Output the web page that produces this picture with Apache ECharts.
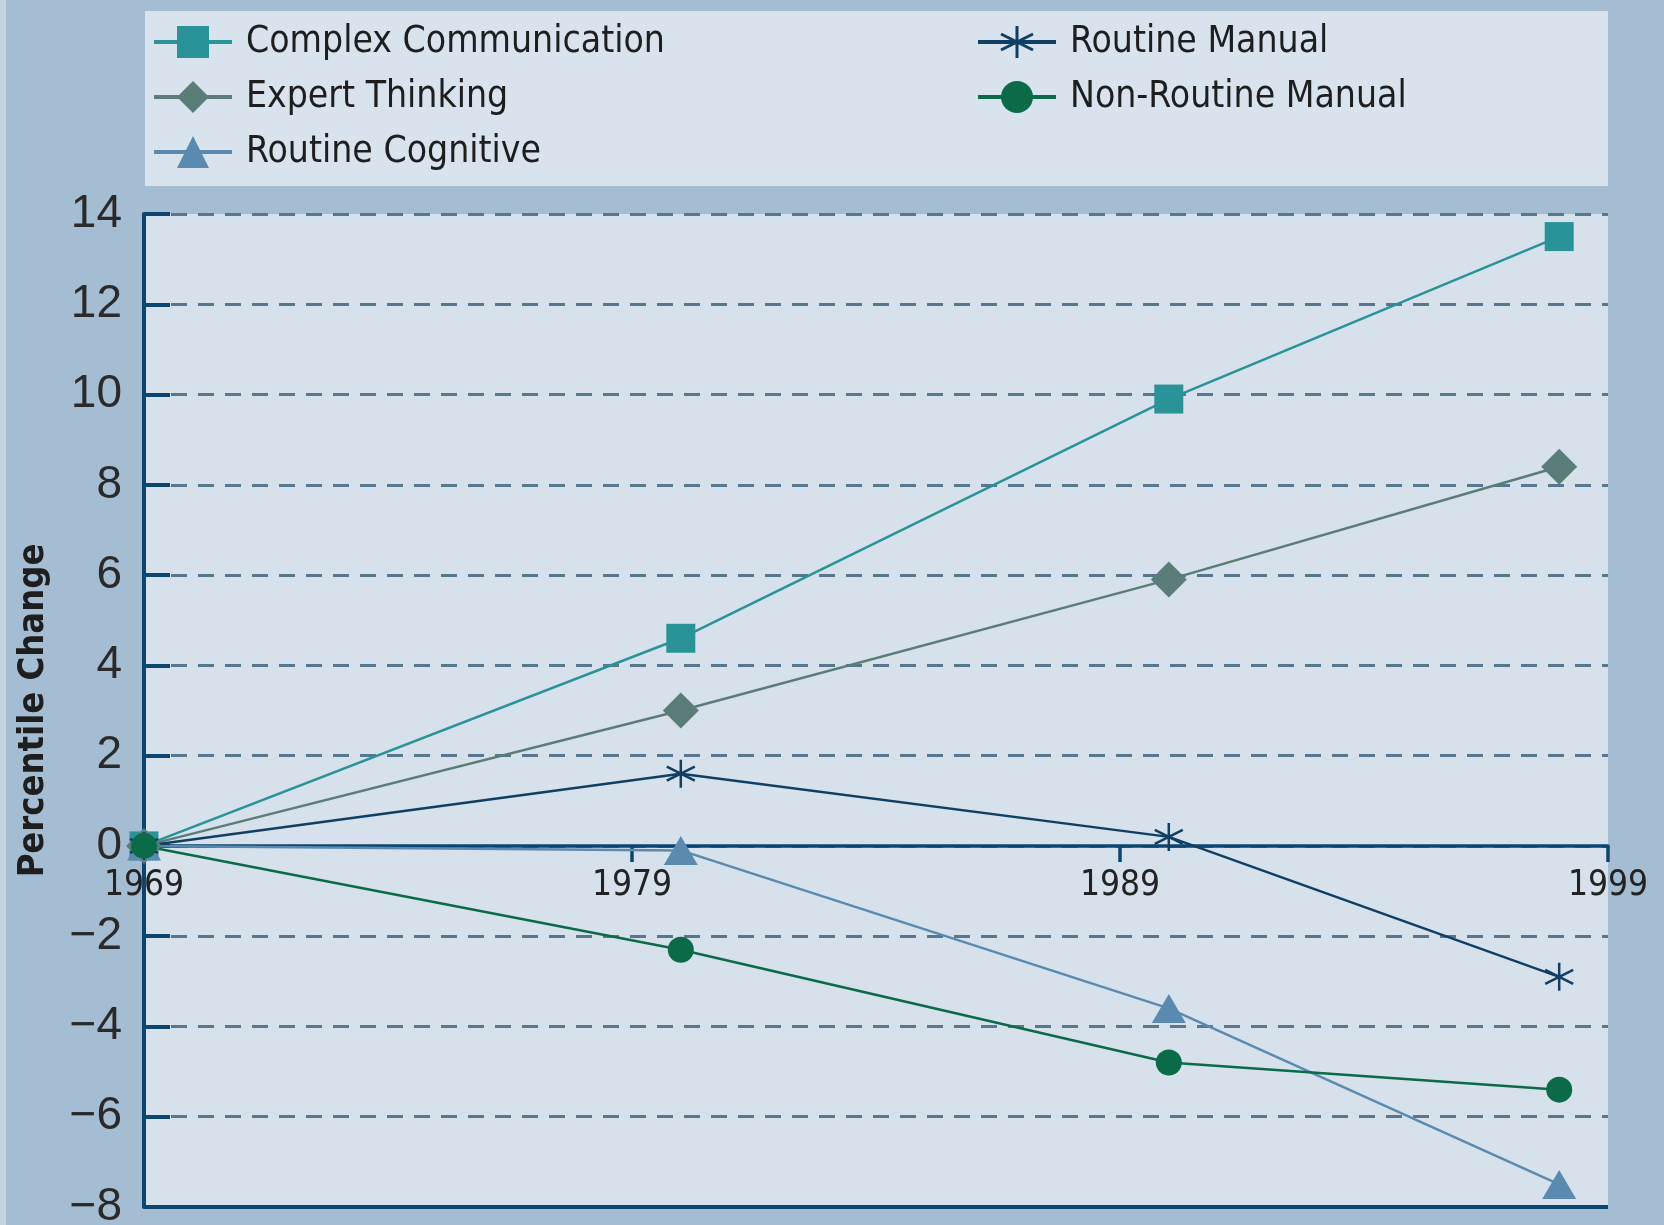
<!DOCTYPE html>
<html><head><meta charset="utf-8">
<script src="https://cdn.jsdelivr.net/npm/echarts@6/dist/echarts.min.js"></script>
<style>html,body{margin:0;padding:0;background:#a5bdd3}#c{width:1664px;height:1225px}</style>
</head><body><div id="c"></div>
<script>
// ---- data ----
const baseYear = 1969;
const years = [1969, 1980, 1990, 1998];
const xAxisRange = [1969, 1999];
const xTickStep = 10;
const yAxisRange = [-8, 14];
const yTickStep = 2;
const seriesNames = ['Complex Communication', 'Expert Thinking', 'Routine Cognitive', 'Routine Manual', 'Non-Routine Manual'];
const complexCommunication = [0, 4.6, 9.9, 13.5];
const expertThinking = [0, 3.0, 5.9, 8.4];
const routineCognitive = [0, -0.1, -3.6, -7.5];
const routineManual = [0, 1.6, 0.2, -2.9];
const nonRoutineManual = [0, -2.3, -4.8, -5.4];
const yAxisTitle = 'Percentile Change';

// ---- layout / styling ----
const W = 1664, H = 1225;
const gridBox = {left: 144, right: 56, top: 214, bottom: 18};
const plotH = H - gridBox.top - gridBox.bottom;
const zeroY = gridBox.top + plotH * (yAxisRange[1] / (yAxisRange[1] - yAxisRange[0]));
const navy = '#0c4670';
const narrow = '"Liberation Sans Narrow","DejaVu Sans Condensed","Roboto Condensed",sans-serif';
const asterisk = 'path://M0,-10L0,10M-8.7,-5L8.7,5M-8.7,5L8.7,-5';
const styles = [
  {color: '#2a9398', symbol: 'rect', size: 29},
  {color: '#5a7d79', symbol: 'diamond', size: 36},
  {color: '#5a8ab0', symbol: 'triangle', size: [34, 29]},
  {color: '#103f63', symbol: asterisk, size: 28, border: 2.5},
  {color: '#0b6a47', symbol: 'circle', size: 26}
];
const valuesList = [complexCommunication, expertThinking, routineCognitive, routineManual, nonRoutineManual];

const series = seriesNames.map((name, i) => {
  const st = styles[i];
  const s = {
    name, type: 'line', xAxisIndex: 0, yAxisIndex: 0,
    data: years.map((y, j) => [y - baseYear, valuesList[i][j]]),
    symbol: st.symbol, symbolSize: st.size,
    lineStyle: {color: st.color, width: 2.5},
    itemStyle: {color: st.color, opacity: 1},
    emphasis: {disabled: true},
    animation: false
  };
  if (st.border) {
    s.itemStyle.borderColor = st.color;
    s.itemStyle.borderWidth = st.border;
  }
  return s;
});
// bottom frame line of the plot at the axis minimum
series[0].markLine = {
  silent: true, symbol: 'none', label: {show: false},
  lineStyle: {color: navy, width: 4, type: 'solid'},
  data: [{yAxis: yAxisRange[0]}]
};

const legendCommon = {
  orient: 'vertical', itemWidth: 78, itemHeight: 40, itemGap: 15,
  textStyle: {fontFamily: narrow, fontSize: 37, color: '#1e1e1e', padding: [0, 0, 0, 9], lineHeight: 40},
  lineStyle: {width: 4},
  selectedMode: false
};
function legendData(names) {
  return names.map(n => {
    const i = seriesNames.indexOf(n);
    const d = {name: n};
    if (styles[i].border) d.itemStyle = {borderColor: styles[i].color, borderWidth: 3};
    return d;
  });
}
const xRange = xAxisRange[1] - xAxisRange[0];

const chart = echarts.init(document.getElementById('c'));
chart.setOption({
  backgroundColor: '#a5bdd3',
  animation: false,
  graphic: [
    {type: 'rect', shape: {x: 0, y: 0, width: 6, height: H}, style: {fill: '#c6d4e2'}, z: 0},
    {type: 'rect', shape: {x: 145, y: 11, width: 1463, height: 175}, style: {fill: '#d8e3ed'}, z: 0}
  ],
  legend: [
    Object.assign({}, legendCommon, {left: 147, top: 17, data: legendData(seriesNames.slice(0, 3))}),
    Object.assign({}, legendCommon, {left: 971, top: 17, data: legendData(seriesNames.slice(3))})
  ],
  grid: [
    Object.assign({show: true, backgroundColor: '#d6e1eb', borderWidth: 0, containLabel: false, outerBoundsMode: 'none'}, gridBox),
    {left: gridBox.left, right: gridBox.right, top: gridBox.top, bottom: H - zeroY, show: false, containLabel: false, outerBoundsMode: 'none'}
  ],
  xAxis: [
    {
      type: 'value', gridIndex: 0, min: 0, max: xRange, interval: xTickStep,
      position: 'bottom',
      axisLine: {onZero: true, lineStyle: {color: navy, width: 3.5}},
      axisTick: {show: true, inside: false, length: 16, lineStyle: {color: navy, width: 3.5}},
      axisLabel: {show: false},
      splitLine: {show: false}
    },
    {
      type: 'value', gridIndex: 1, min: 0, max: xRange, interval: xTickStep,
      position: 'bottom',
      axisLine: {show: false}, axisTick: {show: false}, splitLine: {show: false},
      axisLabel: {formatter: v => String(baseYear + v), fontFamily: narrow, fontSize: 35, color: '#222', margin: 22}
    }
  ],
  yAxis: [
    {
      type: 'value', gridIndex: 0, min: yAxisRange[0], max: yAxisRange[1], interval: yTickStep,
      name: yAxisTitle, nameLocation: 'middle', nameGap: 92,
      nameTextStyle: {fontFamily: narrow, fontWeight: 'bold', fontSize: 36, color: '#1e1e1e'},
      axisLine: {show: true, onZero: false, lineStyle: {color: navy, width: 4}},
      axisTick: {show: true, inside: true, length: 26, lineStyle: {color: navy, width: 4}},
      axisLabel: {formatter: v => String(v).replace('-', '\u2212'), fontFamily: '"Liberation Sans",Arial,sans-serif', fontSize: 46, color: '#2a2a2a', margin: 22},
      splitLine: {show: true, lineStyle: {color: '#57778f', width: 2.8, type: [16, 11]}}
    },
    {type: 'value', gridIndex: 1, min: 0, max: yAxisRange[1], show: false}
  ],
  series: series
});
</script></body></html>
